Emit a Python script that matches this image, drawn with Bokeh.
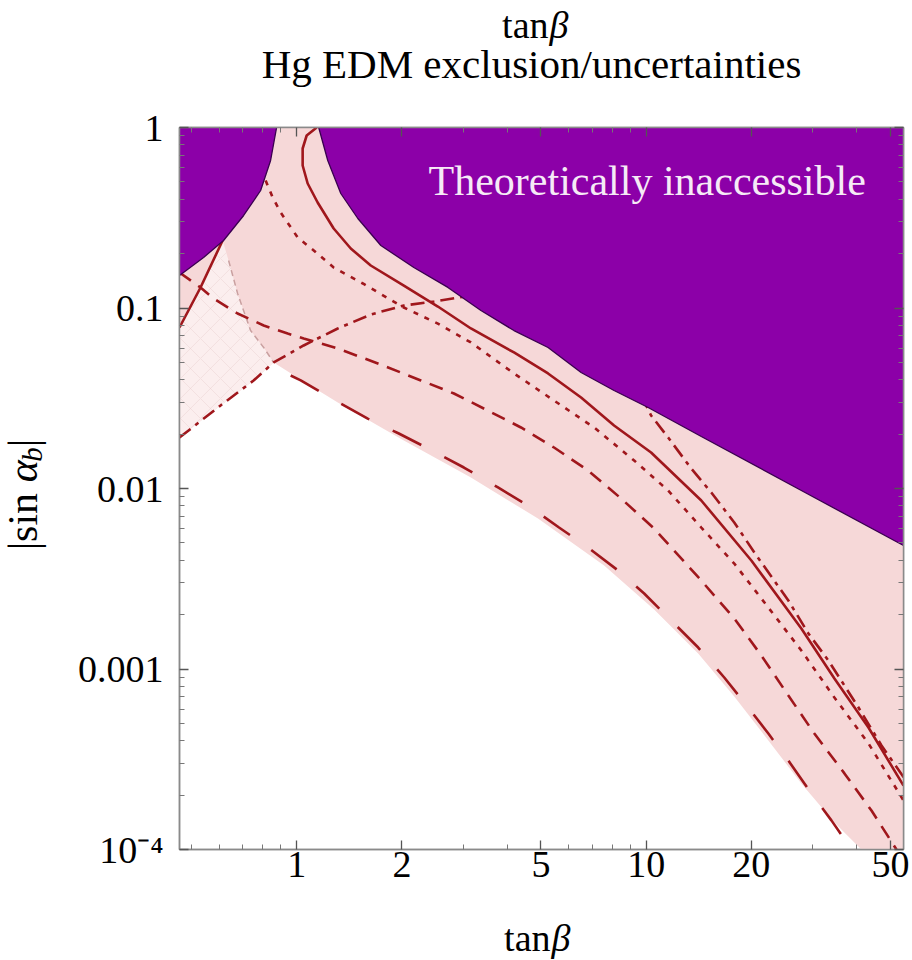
import math
from bokeh.plotting import figure
from bokeh.layouts import column, row
from bokeh.models import (FixedTicker, LogAxis, CustomJSTickFormatter, Label, Range1d)
from bokeh.embed import file_html
from bokeh.resources import INLINE

# ---------------- axes ----------------
X_RANGE = (0.462, 54.5)
Y_RANGE = (1e-4, 1.0)
X_MAJOR = [1, 2, 5, 10, 20, 50]
X_MAJOR_LABELS = ["1", "2", "5", "10", "20", "50"]
X_MINOR = [0.5, 0.6, 0.7, 0.8, 0.9, 3, 4, 6, 7, 8, 9, 30, 40]
Y_MAJOR = [1e-4, 1e-3, 1e-2, 1e-1, 1]
Y_MAJOR_LABELS = ["10\u207b\u2074", "0.001", "0.01", "0.1", "1"]
Y_MINOR = [2e-4, 3e-4, 4e-4, 5e-4, 6e-4, 7e-4, 8e-4, 9e-4,
           2e-3, 3e-3, 4e-3, 5e-3, 6e-3, 7e-3, 8e-3, 9e-3,
           2e-2, 3e-2, 4e-2, 5e-2, 6e-2, 7e-2, 8e-2, 9e-2,
           0.2, 0.3, 0.4, 0.5, 0.6, 0.7, 0.8, 0.9]

# ---------------- data (tan beta, |sin alpha_b|) ----------------
purple_left_tb = [0.462, 0.5415, 0.6176, 0.705, 0.7885, 0.842, 0.876]
purple_left_s = [0.1514, 0.1905, 0.2366, 0.3255, 0.4477, 0.6566, 1.0]

purple_right_tb = [1.156, 1.227, 1.337, 1.496, 1.741, 2.164, 2.708, 3.367, 4.186, 5.239,
                   6.513, 8.094, 10.13, 14.38, 27.8, 54.5]
purple_right_s = [1.0, 0.6566, 0.4309, 0.3132, 0.2220, 0.1676, 0.130, 0.0969, 0.0750, 0.0604,
                  0.0439, 0.0349, 0.0281, 0.0194, 0.00975, 0.00483]

pink_low_tb = [0.462, 0.6056, 0.7528, 0.8593, 1.047, 1.311, 2.026, 3.152, 4.903, 7.58,
               10.54, 14.09, 17.87, 22.37, 27.8, 34.57, 41.3]
pink_low_s = [0.01916, 0.02884, 0.03966, 0.0499, 0.0392, 0.02996, 0.01844, 0.0115, 0.00682, 0.003744,
              0.002136, 0.001218, 0.000704, 0.000402, 0.000232, 0.000141, 0.0001]

solid_left_tb = [0.462, 0.5307, 0.6138]
solid_left_s = [0.078, 0.1299, 0.2366]

faint_tb = [0.6138, 0.6385, 0.6776, 0.738, 0.8045, 0.8593]
faint_s = [0.2366, 0.1833, 0.1203, 0.0750, 0.0604, 0.0499]

solid_tb = [1.141, 1.068, 1.040, 1.040, 1.075, 1.148, 1.276, 1.428, 1.629, 2.026, 2.535, 3.152,
            4.186, 5.239, 6.513, 8.094, 10.33, 14.38, 20.0, 27.8, 34.57, 43.26, 54.5]
solid_s = [1.0, 0.903, 0.765, 0.616, 0.4896, 0.3842, 0.2757, 0.2136, 0.172, 0.1332, 0.1019, 0.0770,
           0.0567, 0.0434, 0.0319, 0.02234, 0.01583, 0.00858, 0.00399, 0.001677, 0.000886, 0.000474, 0.000226]

dotted_tb = [0.815, 0.8536, 0.9000, 1.0066, 1.119, 1.276, 1.546, 2.026, 2.535, 3.152, 4.186,
             5.45, 7.096, 9.24, 11.56, 14.38, 17.87, 22.37, 27.8, 34.57, 43.26, 54.5]
dotted_s = [0.5084, 0.4096, 0.3381, 0.2458, 0.2083, 0.1676, 0.1367, 0.1006, 0.0820, 0.0644, 0.0434,
            0.0307, 0.02178, 0.01429, 0.00975, 0.00608, 0.00384, 0.00219, 0.001266, 0.000695, 0.000387, 0.000187]

dashdot_left_tb = [0.462, 0.6056, 0.7528, 0.8593, 1.047, 1.311, 1.629, 2.026, 2.47, 3.152]
dashdot_left_s = [0.01916, 0.02884, 0.03966, 0.0499, 0.0620, 0.0770, 0.0920, 0.1032, 0.1086, 0.1173]

dashdot_right_tb = [9.675, 10.33, 11.56, 13.46, 15.36, 17.87, 20.4, 25.52, 29.12, 33.23, 40.51, 47.14, 54.9]
dashdot_right_s = [0.03275, 0.02538, 0.01916, 0.0129, 0.0095, 0.00648, 0.00442, 0.002396, 0.001573,
                   0.001114, 0.000612, 0.000377, 0.000247]

dashed_tb = [0.462, 0.5307, 0.5784, 0.6776, 0.8045, 0.9424, 1.047, 1.311, 1.707, 2.266, 2.818, 3.526,
             4.383, 5.45, 6.82, 8.48, 10.54, 14.38, 17.87, 21.36, 25.52, 30.29, 36.93, 44.13, 52.03]
dashed_s = [0.1573, 0.1299, 0.1129, 0.0932, 0.0800, 0.0722, 0.0678, 0.0596, 0.0493, 0.0397, 0.0336, 0.0270,
            0.02178, 0.01687, 0.01258, 0.0088, 0.006, 0.00309, 0.001905, 0.001188, 0.000713, 0.000439,
            0.000264, 0.0001644, 0.0001]

longdash_tb = [0.9612, 1.027, 1.276, 1.597, 1.960, 2.47, 3.009, 3.767, 4.591, 5.632, 6.82, 8.317, 9.87,
               12.03, 14.09, 16.73, 19.09, 22.37, 25.52, 29.71, 33.89, 38.68]
longdash_s = [0.04227, 0.0397, 0.0311, 0.0244, 0.02017, 0.01603, 0.01307, 0.01013, 0.00805, 0.00608,
              0.00471, 0.00351, 0.00262, 0.001787, 0.001315, 0.000897, 0.000652, 0.000439, 0.000311,
              0.000204, 0.000145, 0.0001]

# ---------------- texts ----------------
TITLE_1 = ("tan", "\u03b2")
TITLE_2 = "Hg EDM exclusion/uncertainties"
X_LABEL = ("tan", "\u03b2")
Y_LABEL = ("|sin", "\u03b1", "b", "|")
REGION_TEXT = "Theoretically inaccessible"

# ---------------- styles ----------------
FONT = "Liberation Serif"
PURPLE = "#8c00a8"
PURPLE_EDGE = "#3a0050"
PINK = "#f6d8d8"
LIGHT = "#fbeeee"
RED = "#a0171c"
LW = 2.6

TOTAL_W = 912
TITLE_H = 98
YLAB_W = 60
XLAB_H = 56
MAIN_W = TOTAL_W - YLAB_W
BL, BT, BB = 119, 29, 55
FW, FH = 724, 722
BR = MAIN_W - BL - FW
MAIN_H = BT + FH + BB

p = figure(width=MAIN_W, height=MAIN_H, x_axis_type="log", y_axis_type="log",
           x_range=Range1d(*X_RANGE), y_range=Range1d(*Y_RANGE),
           output_backend="svg", toolbar_location=None, title=None,
           min_border_left=BL, min_border_right=BR, min_border_top=BT, min_border_bottom=BB)
p.grid.visible = False
p.background_fill_color = "white"
p.border_fill_color = "white"
p.outline_line_color = "#8a8a8a"
p.outline_line_width = 1.5

X_MIN, X_MAX = X_RANGE
Y_MIN, Y_MAX = Y_RANGE

# pink uncertainty band
p.patch(pink_low_tb + [X_MAX, X_MAX, X_MIN], pink_low_s + [Y_MIN, Y_MAX, Y_MAX],
        fill_color=PINK, line_color=None)
# lighter overlap region on the left
light_x = solid_left_tb + faint_tb[1:] + dashdot_left_tb[:3][::-1]
light_y = solid_left_s + faint_s[1:] + dashdot_left_s[:3][::-1]
p.patch(light_x, light_y, fill_color=LIGHT, line_color=None,
        hatch_pattern="diagonal_cross", hatch_color="#e6c6c6", hatch_alpha=0.35,
        hatch_scale=20, hatch_weight=1)
p.line(faint_tb[1:], faint_s[1:], line_color="#c9a0a0", line_width=1.5, line_dash="6 4")

# curves
p.line(solid_tb, solid_s, line_color=RED, line_width=LW)
p.line(solid_left_tb, solid_left_s, line_color=RED, line_width=LW)
p.line(dotted_tb, dotted_s, line_color=RED, line_width=LW, line_dash="5 7")
p.line(dashdot_left_tb, dashdot_left_s, line_color=RED, line_width=LW, line_dash="14 6 4 6")
p.line(dashdot_right_tb, dashdot_right_s, line_color=RED, line_width=LW, line_dash="14 6 4 6")
p.line(dashed_tb, dashed_s, line_color=RED, line_width=LW, line_dash="14 9")
p.line(longdash_tb, longdash_s, line_color=RED, line_width=LW, line_dash="32 26")

# theoretically inaccessible region
p.patch(purple_left_tb + [X_MIN], purple_left_s + [Y_MAX], fill_color=PURPLE, line_color=None)
p.patch(purple_right_tb + [X_MAX], purple_right_s + [Y_MAX], fill_color=PURPLE, line_color=None)
p.line(purple_left_tb, purple_left_s, line_color=PURPLE_EDGE, line_width=1.3)
p.line(purple_right_tb, purple_right_s, line_color=PURPLE_EDGE, line_width=1.3)

# in-plot text, placed through the log scales (fractions of the frame)
LX0, LX1 = math.log10(X_MIN), math.log10(X_MAX)
LY0, LY1 = math.log10(Y_MIN), math.log10(Y_MAX)
def dx(fx):
    return 10 ** (LX0 + fx * (LX1 - LX0))
def dy(fy):
    return 10 ** (LY1 - fy * (LY1 - LY0))
p.add_layout(Label(x=dx(0.344), y=dy(0.074), text=REGION_TEXT, text_font=FONT,
                   text_font_size="42px", text_color="#f6eaf6", text_align="left",
                   text_baseline="middle"))

# ---------------- axes ----------------
def fmt(vals, labs):
    return CustomJSTickFormatter(args=dict(vals=vals, labs=labs), code="""
        for (let i = 0; i < vals.length; i++) {
            if (Math.abs(Math.log10(vals[i]) - Math.log10(tick)) < 1e-6) return labs[i];
        }
        return "";
    """)

def style_axis(ax, labels=True):
    ax.axis_line_color = "#8a8a8a"
    ax.axis_line_width = 1.5
    ax.major_tick_in = 9
    ax.major_tick_out = 0
    ax.minor_tick_in = 5
    ax.minor_tick_out = 0
    ax.major_tick_line_color = "#555555"
    ax.minor_tick_line_color = "#777777"
    ax.major_tick_line_width = 1.3
    ax.minor_tick_line_width = 1
    if labels:
        ax.major_label_text_font = FONT
        ax.major_label_text_font_size = "38px"
        ax.major_label_text_color = "black"
    else:
        ax.major_label_text_font_size = "0px"
        ax.major_label_standoff = 0

xa = p.xaxis[0]
xa.ticker = FixedTicker(ticks=X_MAJOR, minor_ticks=X_MINOR)
xa.formatter = fmt(X_MAJOR, X_MAJOR_LABELS)
style_axis(xa)
xa.major_label_standoff = 2

ya = p.yaxis[0]
ya.ticker = FixedTicker(ticks=Y_MAJOR, minor_ticks=Y_MINOR)
ya.formatter = fmt(Y_MAJOR, Y_MAJOR_LABELS)
style_axis(ya)
ya.major_label_standoff = 16

top = LogAxis(ticker=FixedTicker(ticks=X_MAJOR, minor_ticks=X_MINOR),
              formatter=CustomJSTickFormatter(code="return ''"))
style_axis(top, labels=False)
p.add_layout(top, "above")
right = LogAxis(ticker=FixedTicker(ticks=Y_MAJOR, minor_ticks=Y_MINOR),
                formatter=CustomJSTickFormatter(code="return ''"))
style_axis(right, labels=False)
p.add_layout(right, "right")

# ---------------- text panels (pixel-coordinate figures) ----------------
def text_panel(w, h):
    f = figure(width=w, height=h, x_range=Range1d(0, w), y_range=Range1d(h, 0),
               output_backend="svg", toolbar_location=None, title=None,
               x_axis_location=None, y_axis_location=None, min_border=0)
    f.grid.visible = False
    f.outline_line_color = None
    f.background_fill_color = "white"
    f.border_fill_color = "white"
    return f

def lab(f, x, y, text, size=40, align="center", style="normal", angle=0.0):
    f.add_layout(Label(x=x, y=y, text=text, text_font=FONT, text_font_size=f"{size}px",
                       text_font_style=style, text_color="black", text_align=align,
                       text_baseline="middle", angle=angle))

tf = text_panel(TOTAL_W, TITLE_H)
lab(tf, 548, 24, TITLE_1[0], size=38, align="right")
lab(tf, 549, 24, TITLE_1[1], size=38, align="left", style="italic")
lab(tf, 531, 63, TITLE_2, size=41)

yf = text_panel(YLAB_W, MAIN_H)
A = math.pi / 2
lab(yf, 22, 472, Y_LABEL[0], size=42, align="left", angle=A)
lab(yf, 22, 396, Y_LABEL[1], size=42, align="left", style="italic", angle=A)
lab(yf, 31, 373, Y_LABEL[2], size=29, align="left", style="italic", angle=A)
lab(yf, 22, 357, Y_LABEL[3], size=42, align="left", angle=A)

xf = text_panel(TOTAL_W, XLAB_H)
lab(xf, 550, 33, X_LABEL[0], size=38, align="right")
lab(xf, 551, 33, X_LABEL[1], size=38, align="left", style="italic")

layout = column(tf, row(yf, p), xf)
open("out.html", "w").write(file_html(layout, INLINE))
